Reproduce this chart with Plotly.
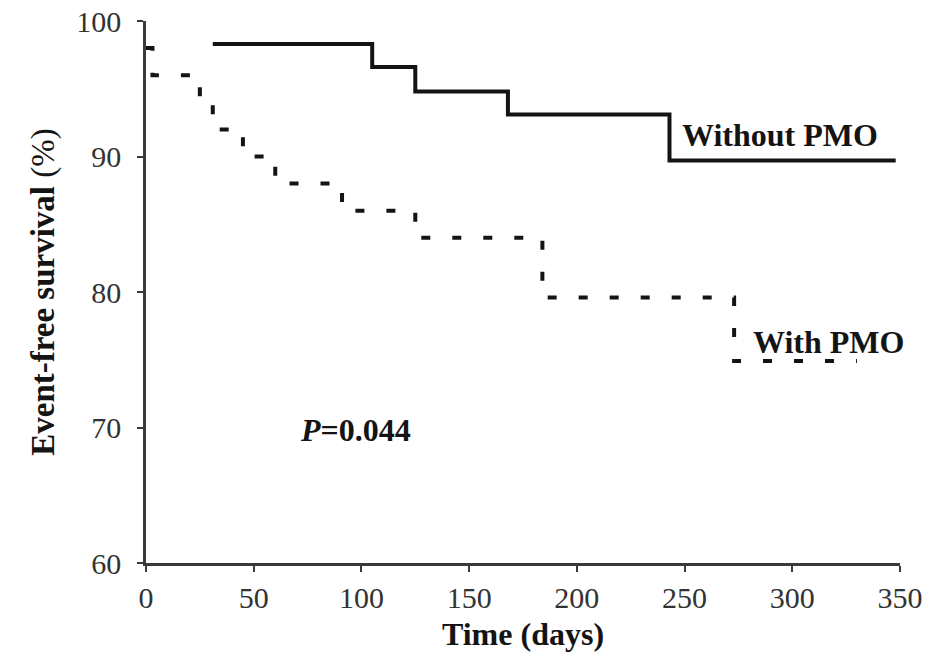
import plotly.graph_objects as go

# Kaplan-Meier step data (time in days, event-free survival in %)
without_pmo_days = [31, 105, 125, 168, 243, 348]
without_pmo_surv = [98.3, 96.6, 94.8, 93.1, 89.7, 89.7]

with_pmo_days = [0, 3, 25, 31, 45, 60, 91, 125, 184, 273, 330]
with_pmo_surv = [98.0, 96.0, 94.0, 92.0, 90.0, 88.0, 86.0, 84.0, 79.6, 74.9, 74.9]

x_ticks = [0, 50, 100, 150, 200, 250, 300, 350]
y_ticks = [60, 70, 80, 90, 100]

SERIF = "Liberation Serif, Times New Roman, serif"
INK = "#141414"
AXIS = "#3a3a3a"

fig = go.Figure()

fig.add_trace(go.Scatter(
    x=without_pmo_days, y=without_pmo_surv, mode="lines",
    line=dict(shape="hv", color=INK, width=4),
    name="Without PMO", showlegend=False,
))

fig.add_trace(go.Scatter(
    x=with_pmo_days, y=with_pmo_surv, mode="lines",
    line=dict(shape="hv", color=INK, width=4, dash="9px,22px"),
    name="With PMO", showlegend=False,
))

fig.add_annotation(x=248, y=91.6, text="<b>Without PMO</b>", showarrow=False,
                   xanchor="left", yanchor="middle",
                   font=dict(family=SERIF, size=32, color=INK))
fig.add_annotation(x=281, y=76.3, text="<b>With PMO</b>", showarrow=False,
                   xanchor="left", yanchor="middle",
                   font=dict(family=SERIF, size=32, color=INK))
fig.add_annotation(x=70.5, y=69.8, text="<b><i>P</i>=0.044</b>", showarrow=False,
                   xanchor="left", yanchor="middle",
                   font=dict(family=SERIF, size=32, color=INK))

fig.update_xaxes(
    range=[0, 350], tickvals=x_ticks, ticktext=[str(v) for v in x_ticks],
    automargin=False,
    showgrid=False, zeroline=False, showline=True, linecolor=AXIS, linewidth=2.5,
    ticks="outside", ticklen=6, tickwidth=2, tickcolor=AXIS,
    tickfont=dict(family=SERIF, size=30, color="#333"),
    title=dict(text="<b>Time (days)</b>", font=dict(family=SERIF, size=32, color=INK), standoff=10),
)
fig.update_yaxes(
    range=[60, 100], tickvals=y_ticks, ticktext=[str(v) for v in y_ticks],
    automargin=False,
    showgrid=False, zeroline=False, showline=True, linecolor=AXIS, linewidth=2.5,
    ticks="outside", ticklen=6, tickwidth=2, tickcolor=AXIS,
    tickfont=dict(family=SERIF, size=30, color="#333"),
    ticklabelstandoff=10,
    title=dict(text="<b>Event-free survival</b> (%)", font=dict(family=SERIF, size=33, color=INK), standoff=12),
)

fig.update_layout(
    template="none",
    width=928, height=654,
    margin=dict(l=146, r=28, t=21, b=91),
    paper_bgcolor="white", plot_bgcolor="white",
)

fig.write_html("out.html")
